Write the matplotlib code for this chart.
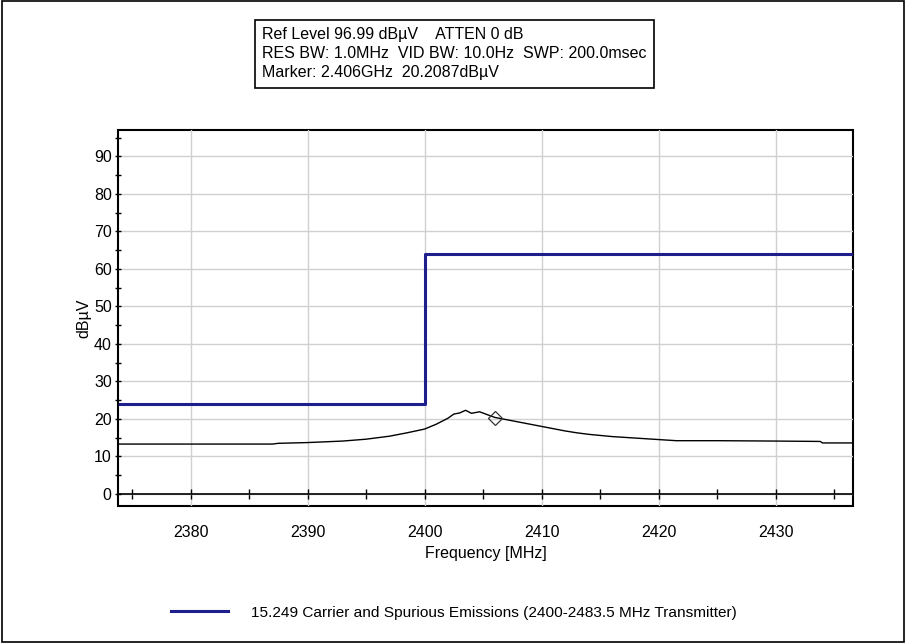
import matplotlib.pyplot as plt
from matplotlib.ticker import MultipleLocator

plt.rcParams['font.family'] = ['Liberation Sans', 'DejaVu Sans']

# limit line (15.249)
limit_freq = [2373.8, 2400.0, 2400.0, 2436.6]
limit_level = [24.0, 24.0, 63.9, 63.9]

# measured trace
trace_freq = [2373.8, 2380, 2387, 2387.5, 2390, 2393, 2395, 2397, 2398.5, 2400,
              2401, 2402, 2402.5, 2403, 2403.5, 2404, 2404.7, 2405.3, 2406, 2407,
              2408, 2409, 2410, 2411, 2412, 2413, 2414, 2415, 2416, 2418,
              2420, 2421.5, 2425, 2430, 2433.8, 2434, 2436.6]
trace_level = [13.3, 13.3, 13.3, 13.5, 13.7, 14.1, 14.6, 15.4, 16.3, 17.3,
               18.6, 20.2, 21.3, 21.6, 22.3, 21.5, 21.9, 21.2, 20.4, 19.8,
               19.2, 18.6, 18.0, 17.4, 16.8, 16.3, 15.9, 15.6, 15.3, 14.9,
               14.5, 14.2, 14.2, 14.1, 14.0, 13.6, 13.6]

marker_freq = 2406.0
marker_level = 20.2087

fig = plt.figure(figsize=(9.06, 6.43), dpi=100)
ax = fig.add_axes([0.1302, 0.2131, 0.8113, 0.5847])

ax.plot(limit_freq, limit_level, color='#1e1e8c', lw=2.2,
        label='15.249 Carrier and Spurious Emissions (2400-2483.5 MHz Transmitter)')
ax.plot(trace_freq, trace_level, color='black', lw=1.0)
ax.plot([marker_freq], [marker_level], marker='D', ms=7, mfc='none', mec='#333333', mew=0.9)

ax.set_xlim(2373.8, 2436.6)
ax.set_ylim(-3.2, 97)

ax.xaxis.set_major_locator(MultipleLocator(10))
ax.xaxis.set_minor_locator(MultipleLocator(5))
ax.yaxis.set_major_locator(MultipleLocator(10))
ax.yaxis.set_minor_locator(MultipleLocator(5))

ax.grid(True, which='major', color='#d0d0d0', lw=1.0)
ax.set_axisbelow(True)

# x axis drawn at 0 dB, frame from axes patch
ax.spines['bottom'].set_position(('data', 0))
ax.spines['top'].set_visible(False)
ax.spines['right'].set_visible(False)
ax.spines['bottom'].set_linewidth(1.2)
ax.spines['left'].set_linewidth(1.2)
ax.patch.set_edgecolor('black')
ax.patch.set_linewidth(1.5)

ax.tick_params(axis='x', which='both', direction='inout', length=7, width=1, pad=19, labelsize=11.5)
ax.tick_params(axis='y', which='both', direction='inout', length=5, width=1, pad=2, labelsize=11.5)

ax.set_xlabel('Frequency [MHz]', fontsize=11.5, labelpad=4)
ax.set_ylabel('dBµV', fontsize=11.5, labelpad=2)

fig.text(0.289, 0.958,
         'Ref Level 96.99 dBµV    ATTEN 0 dB\n'
         'RES BW: 1.0MHz  VID BW: 10.0Hz  SWP: 200.0msec\n'
         'Marker: 2.406GHz  20.2087dBµV',
         ha='left', va='top', fontsize=11.5, linespacing=1.35,
         bbox=dict(boxstyle='square,pad=0.45', fc='white', ec='black', lw=1.2))

fig.legend(loc='center', bbox_to_anchor=(0.501, 0.047), frameon=False, fontsize=11.1,
           handlelength=3.7, handletextpad=1.5)

border = plt.Rectangle((0.002, 0.002), 0.996, 0.996, transform=fig.transFigure,
                       fill=False, ec='black', lw=1.2)
fig.patches.append(border)

fig.savefig('out.png', dpi=100)
